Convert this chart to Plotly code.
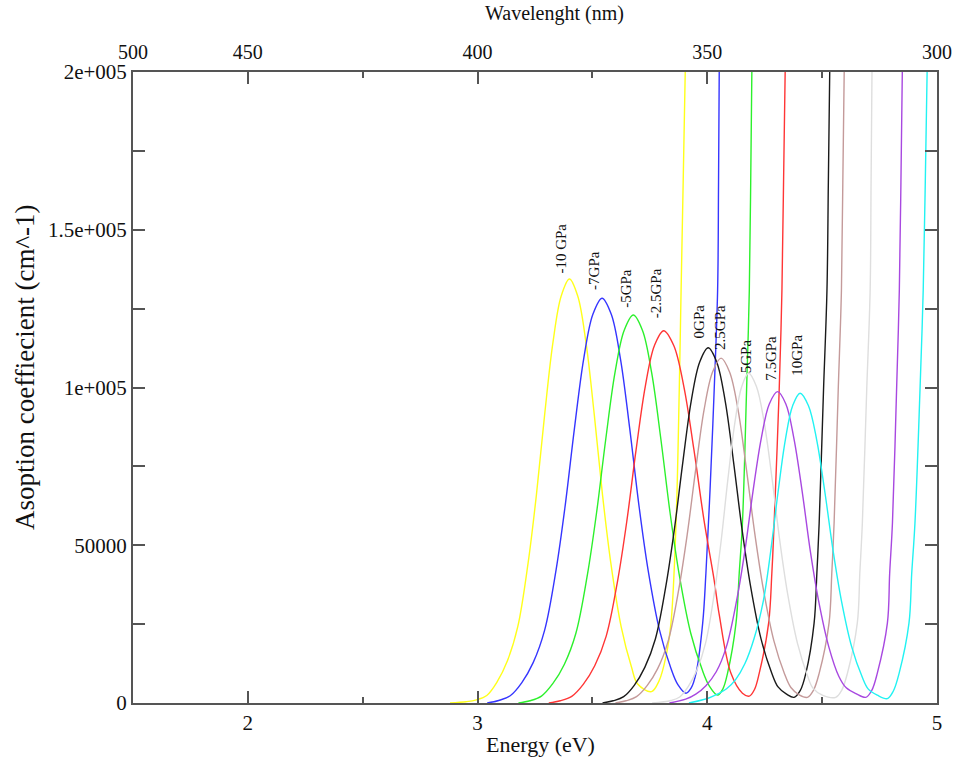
import plotly.graph_objects as go

# ---------------- data ----------------
labels = ["-10 GPa", "-7GPa", "-5GPa", "-2.5GPa", "0GPa", "2.5GPa", "5GPa", "7.5GPa", "10GPa"]

e_m10 = [2.880, 2.950, 2.995, 3.040, 3.085, 3.130, 3.175, 3.220, 3.256, 3.292, 3.328, 3.364, 3.400, 3.436, 3.472, 3.508, 3.544, 3.580, 3.625, 3.670, 3.697, 3.757, 3.790, 3.820, 3.842, 3.864, 3.878, 3.886, 3.895, 3.904]
a_m10 = [0, 400, 1000, 2400, 6700, 13400, 24200, 44400, 65900, 91400, 114200, 129000, 134400, 129000, 114200, 91400, 65900, 44400, 24200, 11400, 6000, 3600, 7000, 14700, 25400, 57100, 99200, 130900, 165000, 200000]

e_m7 = [3.042, 3.092, 3.142, 3.192, 3.242, 3.292, 3.342, 3.382, 3.422, 3.462, 3.502, 3.542, 3.582, 3.622, 3.662, 3.702, 3.742, 3.792, 3.842, 3.872, 3.907, 3.930, 3.951, 3.980, 3.994, 4.012, 4.030, 4.045, 4.049, 4.052]
a_m7 = [0, 800, 2300, 6400, 12800, 23100, 42300, 62900, 87200, 109100, 123200, 128300, 123200, 109100, 87200, 62900, 42300, 23100, 10900, 5800, 3100, 4800, 9400, 25300, 41100, 67500, 99200, 130900, 165000, 200000]

e_m5 = [3.178, 3.228, 3.278, 3.328, 3.378, 3.428, 3.478, 3.518, 3.558, 3.598, 3.638, 3.678, 3.718, 3.758, 3.798, 3.838, 3.878, 3.928, 3.978, 4.008, 4.045, 4.068, 4.088, 4.125, 4.139, 4.153, 4.171, 4.183, 4.189, 4.194]
a_m5 = [0, 700, 2200, 6200, 12300, 22100, 40600, 60300, 83600, 104600, 118100, 123000, 118100, 104600, 83600, 60300, 40600, 22100, 10500, 5500, 2500, 4500, 9400, 25300, 41100, 57000, 99200, 130900, 165000, 200000]

e_m25 = [3.310, 3.360, 3.410, 3.460, 3.510, 3.560, 3.610, 3.650, 3.690, 3.730, 3.770, 3.810, 3.854, 3.898, 3.942, 3.986, 4.030, 4.052, 4.103, 4.153, 4.183, 4.205, 4.226, 4.267, 4.281, 4.291, 4.313, 4.325, 4.332, 4.339]
a_m25 = [0, 700, 2100, 5900, 11800, 21200, 38900, 57800, 80200, 100300, 113300, 118000, 113300, 100300, 80200, 57800, 38900, 28000, 9400, 3100, 2200, 4200, 9400, 25300, 41100, 57000, 99200, 130900, 165000, 200000]

e_0 = [3.544, 3.590, 3.636, 3.682, 3.728, 3.774, 3.820, 3.857, 3.894, 3.930, 3.967, 4.004, 4.041, 4.078, 4.114, 4.151, 4.188, 4.234, 4.280, 4.308, 4.345, 4.378, 4.405, 4.429, 4.465, 4.477, 4.487, 4.506, 4.521, 4.527, 4.533]
a_0 = [0, 700, 2000, 5600, 11300, 20300, 37200, 55200, 76600, 95700, 108100, 112600, 108100, 95700, 76600, 55200, 37200, 20300, 9600, 5100, 2800, 1800, 4000, 9400, 25300, 41100, 57000, 99200, 130900, 165000, 200000]

e_25 = [3.600, 3.646, 3.692, 3.738, 3.784, 3.830, 3.876, 3.913, 3.950, 3.986, 4.023, 4.060, 4.097, 4.134, 4.170, 4.207, 4.244, 4.290, 4.336, 4.364, 4.400, 4.436, 4.462, 4.487, 4.530, 4.542, 4.552, 4.570, 4.584, 4.590, 4.596]
a_25 = [0, 700, 2000, 5500, 10900, 19700, 36100, 53600, 74300, 92900, 104900, 109300, 104900, 92900, 74300, 53600, 36100, 19700, 9300, 4900, 2600, 1800, 4000, 9400, 25300, 41100, 57000, 99200, 130900, 165000, 200000]

e_5 = [3.760, 3.842, 3.880, 3.917, 3.955, 3.992, 4.030, 4.060, 4.090, 4.120, 4.150, 4.180, 4.214, 4.248, 4.282, 4.316, 4.350, 4.393, 4.435, 4.460, 4.501, 4.559, 4.585, 4.610, 4.653, 4.664, 4.675, 4.694, 4.709, 4.713, 4.717]
a_5 = [0, 800, 1900, 5200, 10500, 18800, 34500, 51200, 71100, 88800, 100300, 104500, 100300, 88800, 71100, 51200, 34500, 18800, 8900, 4700, 2500, 1800, 4000, 9400, 25300, 41100, 57000, 99200, 130900, 165000, 200000]

e_75 = [3.835, 3.906, 3.950, 3.994, 4.039, 4.083, 4.128, 4.164, 4.199, 4.235, 4.270, 4.306, 4.342, 4.377, 4.413, 4.448, 4.484, 4.529, 4.573, 4.605, 4.647, 4.690, 4.716, 4.740, 4.784, 4.794, 4.806, 4.824, 4.836, 4.843, 4.849]
a_75 = [0, 1200, 2800, 5500, 9900, 17800, 32600, 48400, 67100, 83900, 94800, 98700, 94800, 83900, 67100, 48400, 32600, 17800, 8400, 4800, 3000, 1800, 4000, 9400, 25300, 41100, 57000, 99200, 130900, 165000, 200000]

e_10 = [3.920, 4.004, 4.044, 4.084, 4.124, 4.164, 4.204, 4.244, 4.276, 4.308, 4.340, 4.372, 4.404, 4.440, 4.476, 4.512, 4.548, 4.584, 4.629, 4.674, 4.701, 4.740, 4.784, 4.810, 4.835, 4.878, 4.890, 4.904, 4.926, 4.940, 4.949, 4.957]
a_10 = [0, 1500, 2800, 4500, 7500, 12500, 20500, 32400, 48100, 66800, 83500, 94300, 98200, 94300, 83500, 66800, 48100, 32400, 17700, 8300, 4400, 2500, 1400, 3800, 9400, 25300, 41100, 57000, 99200, 130900, 165000, 200000]

# label anchor points (energy, absorption) for the rotated curve labels
label_e = [3.365, 3.509, 3.648, 3.778, 3.965, 4.052, 4.170, 4.274, 4.387]
label_a = [135600, 130300, 124600, 121400, 115000, 111200, 104000, 101400, 103000]

# axis ticks
x_ticks = [2, 3, 4, 5]
x_minor = [2.5, 3.5, 4.5]
y_ticks = [0, 50000, 100000, 150000, 200000]
y_ticktext = ["0", "50000", "1e+005", "1.5e+005", "2e+005"]
y_minor = [25000, 75000, 125000, 175000]
top_ticks = [1.5, 2, 3, 4, 5]
top_ticktext = ["500", "450", "400", "350", "300"]

series_e = [e_m10, e_m7, e_m5, e_m25, e_0, e_25, e_5, e_75, e_10]
series_a = [a_m10, a_m7, a_m5, a_m25, a_0, a_25, a_5, a_75, a_10]
colors = ["#ffff1a", "#3535ff", "#2cf02c", "#ff3535", "#1a1a1a", "#c49a9a", "#dedede", "#a848e0", "#22f2f2"]

FONT = "Liberation Serif"

fig = go.Figure()
for e, a, c, name in zip(series_e, series_a, colors, labels):
    fig.add_trace(go.Scatter(x=e, y=a, mode="lines", name=name,
                             line=dict(color=c, width=1.4, shape="spline", smoothing=1.0),
                             showlegend=False, hoverinfo="skip"))

# invisible trace to activate the top (wavelength) axis
fig.add_trace(go.Scatter(x=[1.5, 5], y=[0, 0], xaxis="x2", mode="markers",
                         marker=dict(opacity=0), showlegend=False, hoverinfo="skip"))

for t, ex, ay in zip(labels, label_e, label_a):
    fig.add_annotation(x=ex, y=ay, xref="x", yref="y", text=t, showarrow=False,
                       textangle=-90, xanchor="center", yanchor="bottom",
                       font=dict(family=FONT, size=15, color="#111"))

fig.add_annotation(x=(540 - 133) / 804, y=(703 - 745) / 631, xref="paper", yref="paper",
                   text="Energy (eV)", showarrow=False, xanchor="center", yanchor="middle",
                   font=dict(family=FONT, size=22, color="#111"))
fig.add_annotation(x=(554 - 133) / 804, y=(703 - 14) / 631, xref="paper", yref="paper",
                   text="Wavelenght (nm)", showarrow=False, xanchor="center", yanchor="middle",
                   font=dict(family=FONT, size=20, color="#111"))
fig.add_annotation(x=(25 - 133) / 804, y=(703 - 367) / 631, xref="paper", yref="paper",
                   text="Asoption coeffiecient (cm^-1)", showarrow=False, textangle=-90,
                   xanchor="center", yanchor="middle",
                   font=dict(family=FONT, size=27, color="#111"))

axis_common = dict(showgrid=False, zeroline=False, showline=True, linewidth=2,
                   linecolor="#555", mirror="allticks", ticks="inside", ticklen=12,
                   tickwidth=1.5, tickcolor="#555", automargin=False,
                   tickfont=dict(family=FONT, size=21, color="#111"))

fig.update_layout(
    width=954, height=769,
    margin=dict(l=133, r=17, t=72, b=66, autoexpand=False),
    paper_bgcolor="white", plot_bgcolor="white",
    showlegend=False,
    xaxis=dict(range=[1.5, 5], tickvals=x_ticks, ticktext=[str(v) for v in x_ticks],
               minor=dict(tickvals=x_minor, ticks="inside", ticklen=6, tickcolor="#555", tickwidth=1.5),
               **axis_common),
    yaxis=dict(range=[0, 200000], tickvals=y_ticks, ticktext=y_ticktext,
               minor=dict(tickvals=y_minor, ticks="inside", ticklen=6, tickcolor="#555", tickwidth=1.5),
               **axis_common),
    xaxis2=dict(range=[1.5, 5], overlaying="x", side="top", anchor="y",
                tickvals=top_ticks, ticktext=top_ticktext, ticks="", showline=False,
                showgrid=False, zeroline=False, ticklabelstandoff=8, automargin=False,
                tickfont=dict(family=FONT, size=20, color="#111")),
)

fig.write_html("out.html")
